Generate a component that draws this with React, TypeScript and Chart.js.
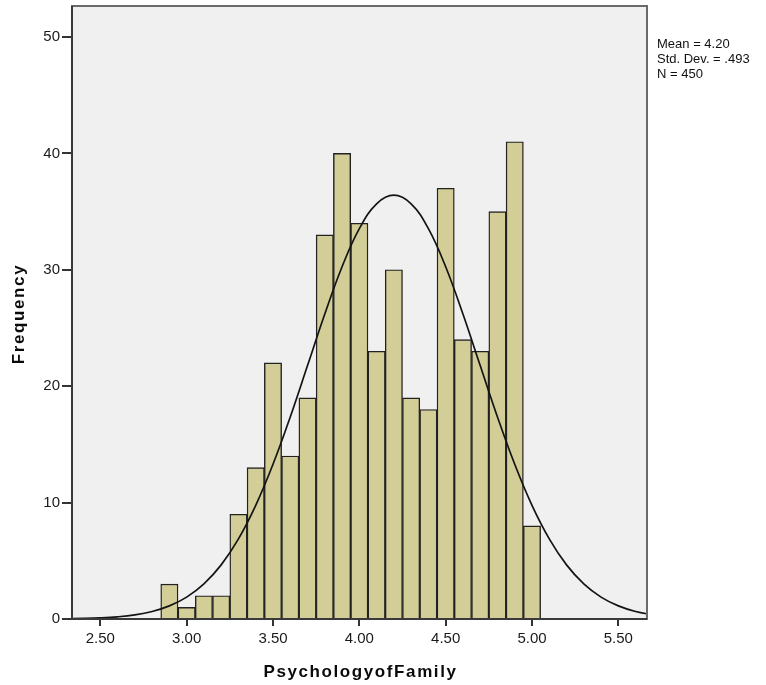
import { useEffect, useRef } from 'react';
import { Chart, registerables } from 'chart.js';

Chart.register(...registerables);

// Histogram bins (centres) and frequencies
const binCenters = [2.9, 3.0, 3.1, 3.2, 3.3, 3.4, 3.5, 3.6, 3.7, 3.8, 3.9, 4.0, 4.1, 4.2, 4.3, 4.4, 4.5, 4.6, 4.7, 4.8, 4.9, 5.0];
const frequencies = [3, 1, 2, 2, 9, 13, 22, 14, 19, 33, 40, 34, 23, 30, 19, 18, 37, 24, 23, 35, 41, 8];

// Normal curve
const curveX = [2.3, 2.4, 2.5, 2.6, 2.7, 2.8, 2.9, 3.0, 3.1, 3.2, 3.3, 3.4, 3.5, 3.6, 3.7, 3.8, 3.9, 4.0, 4.1, 4.2, 4.3, 4.4, 4.5, 4.6, 4.7, 4.8, 4.9, 5.0, 5.1, 5.2, 5.3, 5.4, 5.5, 5.6, 5.7];
const curveY = [0.022, 0.046, 0.095, 0.188, 0.356, 0.646, 1.125, 1.88, 3.02, 4.65, 6.88, 9.76, 13.29, 17.36, 21.77, 26.2, 30.26, 33.53, 35.67, 36.41, 35.67, 33.53, 30.26, 26.2, 21.77, 17.36, 13.29, 9.76, 6.88, 4.65, 3.02, 1.88, 1.125, 0.646, 0.356];

const xTickValues = [2.5, 3.0, 3.5, 4.0, 4.5, 5.0, 5.5];
const yTickValues = [0, 10, 20, 30, 40, 50];
const statsLines = ['Mean = 4.20', 'Std. Dev. = .493', 'N = 450'];
const xTitle = 'PsychologyofFamily';
const yTitle = 'Frequency';

const FONT = "'Liberation Sans', Arial, sans-serif";

const framePlugin = {
  id: 'spssFrame',
  beforeDatasetsDraw(chart: any) {
    const { ctx, chartArea: a } = chart;
    ctx.save();
    ctx.fillStyle = '#f0f0f0';
    ctx.fillRect(a.left, a.top, a.right - a.left, a.bottom - a.top);
    ctx.restore();
  },
  afterDraw(chart: any) {
    const { ctx, chartArea: a } = chart;
    ctx.save();
    // frame
    ctx.strokeStyle = '#6a6a6a';
    ctx.lineWidth = 2;
    ctx.strokeRect(a.left, a.top, a.right - a.left, a.bottom - a.top);
    ctx.strokeStyle = '#3a3a3a';
    ctx.beginPath();
    ctx.moveTo(a.left, a.top);
    ctx.lineTo(a.left, a.bottom);
    ctx.lineTo(a.right, a.bottom);
    ctx.stroke();

    // stats
    ctx.fillStyle = '#111';
    ctx.font = `13px ${FONT}`;
    ctx.textAlign = 'left';
    ctx.textBaseline = 'alphabetic';
    statsLines.forEach((s, i) => ctx.fillText(s, a.right + 10, 48 + i * 15));

    // titles
    ctx.font = `bold 17px ${FONT}`;
    (ctx as any).letterSpacing = '1.6px';
    ctx.fillStyle = '#0a0a0a';
    ctx.textAlign = 'center';
    ctx.fillText(xTitle, (a.left + a.right) / 2 + 1, 677);
    ctx.translate(24, 314);
    ctx.rotate(-Math.PI / 2);
    ctx.fillText(yTitle, 0, 0);
    ctx.restore();
  },
};

export default function App() {
  const ref = useRef<HTMLCanvasElement | null>(null);

  useEffect(() => {
    if (!ref.current) return;
    const chart = new Chart(ref.current, {
      type: 'bar',
      data: {
        datasets: [
          {
            type: 'line',
            data: curveX.map((x, i) => ({ x, y: curveY[i] })),
            borderColor: '#141414',
            borderWidth: 1.7,
            pointRadius: 0,
            tension: 0.4,
            fill: false,
            order: 0,
          } as any,
          {
            type: 'bar',
            data: binCenters.map((x, i) => ({ x, y: frequencies[i] })),
            backgroundColor: 'rgb(211,206,151)',
            borderColor: '#222',
            borderWidth: 1.4,
            barPercentage: 1,
            categoryPercentage: 1,
            order: 1,
          } as any,
        ],
      },
      options: {
        animation: false,
        responsive: false,
        maintainAspectRatio: false,
        layout: { padding: { left: 0, right: 119, top: 6, bottom: 0 } },
        plugins: { legend: { display: false }, tooltip: { enabled: false } },
        scales: {
          x: {
            type: 'linear',
            min: 2.336,
            max: 5.666,
            offset: false,
            afterBuildTicks: (s: any) => {
              s.ticks = xTickValues.map((v) => ({ value: v }));
            },
            afterFit: (s: any) => {
              s.height = 66;
              s.paddingLeft = 0;
              s.paddingRight = 0;
            },
            ticks: {
              callback: (v: any) => Number(v).toFixed(2),
              font: { family: FONT, size: 15 },
              color: '#1a1a1a',
              padding: 4,
              maxRotation: 0,
              autoSkip: false,
            },
            grid: { display: true, drawOnChartArea: false, drawTicks: true, tickLength: 7, color: '#333', lineWidth: 2, offset: false },
            border: { display: false },
          },
          y: {
            type: 'linear',
            min: 0,
            max: 52.66,
            afterBuildTicks: (s: any) => {
              s.ticks = yTickValues.map((v) => ({ value: v }));
            },
            afterFit: (s: any) => {
              s.width = 72;
              s.paddingTop = 0;
              s.paddingBottom = 0;
            },
            ticks: {
              font: { family: FONT, size: 15 },
              color: '#1a1a1a',
              padding: 2,
            },
            grid: { display: true, drawOnChartArea: false, drawTicks: true, tickLength: 10, color: '#333', lineWidth: 2 },
            border: { display: false },
          },
        },
      } as any,
      plugins: [framePlugin],
    });
    return () => chart.destroy();
  }, []);

  return (
    <div style={{ position: 'absolute', left: 0, top: 0, width: 766, height: 685, background: '#fff' }}>
      <canvas ref={ref} width={766} height={685} style={{ display: 'block' }} />
    </div>
  );
}
